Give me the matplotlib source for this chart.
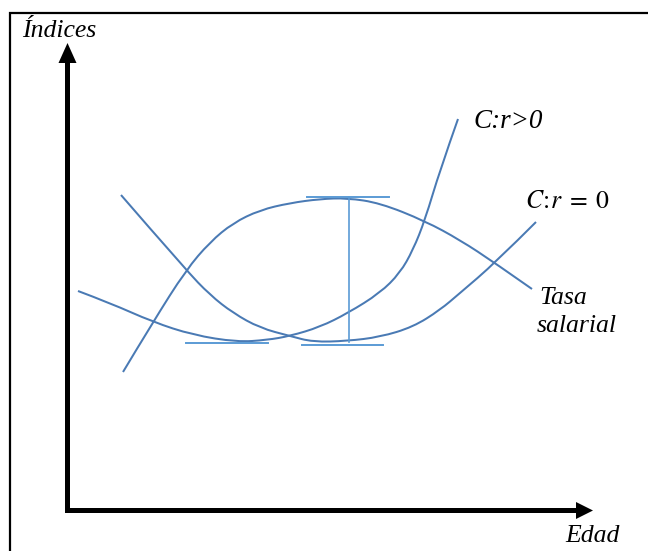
import numpy as np
import matplotlib.pyplot as plt
from matplotlib.path import Path
from matplotlib.patches import PathPatch

# curve points (pixel coords, y down)
wage_x = [123, 153, 186, 210, 233, 260, 290, 320, 347, 380, 425, 460, 495, 532]
wage_y = [372, 322, 270, 242, 223, 210, 203, 199, 198, 203, 221, 240, 263, 289]

c_pos_x = [78, 110, 153, 193, 237, 267, 290, 320, 348, 380, 400, 413, 425, 440, 458]
c_pos_y = [291, 303, 322, 335, 342, 340, 336, 327, 313, 293, 273, 250, 220, 170, 119]

c_zero_x = [121, 186, 210, 233, 260, 290, 313, 347, 380, 413, 440, 460, 495, 536]
c_zero_y = [195, 270, 295, 313, 328, 336, 342, 341, 337, 327, 310, 293, 263, 222]

# tangent lines and the gap marker
hlines_y = [197, 343, 345]
hlines_x0 = [307, 186, 302]
hlines_x1 = [389, 268, 383]
gap_x = 349
gap_y = [197, 342]

curve_col = '#4a7ab4'
line_col = '#5b9bd5'


def smooth_path(xs, ys):
    pts = np.column_stack([xs, ys]).astype(float)
    verts = [pts[0]]
    codes = [Path.MOVETO]
    for i in range(1, len(pts) - 1):
        end = pts[-1] if i == len(pts) - 2 else (pts[i] + pts[i + 1]) / 2
        verts += [pts[i], end]
        codes += [Path.CURVE3, Path.CURVE3]
    return Path(verts, codes)


fig = plt.figure(figsize=(6.48, 5.51), dpi=100)
ax = fig.add_axes([0, 0, 1, 1])
ax.set_xlim(0, 648)
ax.set_ylim(551, 0)
ax.axis('off')

# frame
ax.plot([10, 10, 648], [551, 13, 13], color='black', lw=1.6, solid_joinstyle='miter')

# axes arrows
ax.arrow(67.5, 513, 0, -470, width=5, head_width=18, head_length=20,
         length_includes_head=True, color='black', lw=0)
ax.arrow(65, 510.5, 528, 0, width=5, head_width=17, head_length=17,
         length_includes_head=True, color='black', lw=0)

for xs, ys in [(wage_x, wage_y), (c_pos_x, c_pos_y), (c_zero_x, c_zero_y)]:
    ax.add_patch(PathPatch(smooth_path(xs, ys), fill=False, ec=curve_col, lw=1.45))

for y, x0, x1 in zip(hlines_y, hlines_x0, hlines_x1):
    ax.plot([x0, x1], [y, y], color=line_col, lw=1.4)
ax.plot([gap_x, gap_x], gap_y, color=line_col, lw=1.2)

tfont = dict(family='Liberation Serif', style='italic', fontsize=18.5)
ax.text(22, 31, 'Índices', va='center', ha='left', **tfont)
ax.text(565, 536, 'Edad', va='center', ha='left', **tfont)
ax.text(473, 121, 'C:r>0', va='center', ha='left',
        family='Liberation Serif', style='italic', fontsize=19.5)
ax.text(539, 298, 'Tasa', va='center', ha='left', **tfont)
ax.text(537, 326, 'salarial', va='center', ha='left', **tfont)
plt.rcParams['mathtext.fontset'] = 'stix'
ax.text(525, 201, r'$C\!:\!r\;=\;0$', va='center', ha='left', fontsize=18.5)

fig.savefig('out.png', dpi=100)
